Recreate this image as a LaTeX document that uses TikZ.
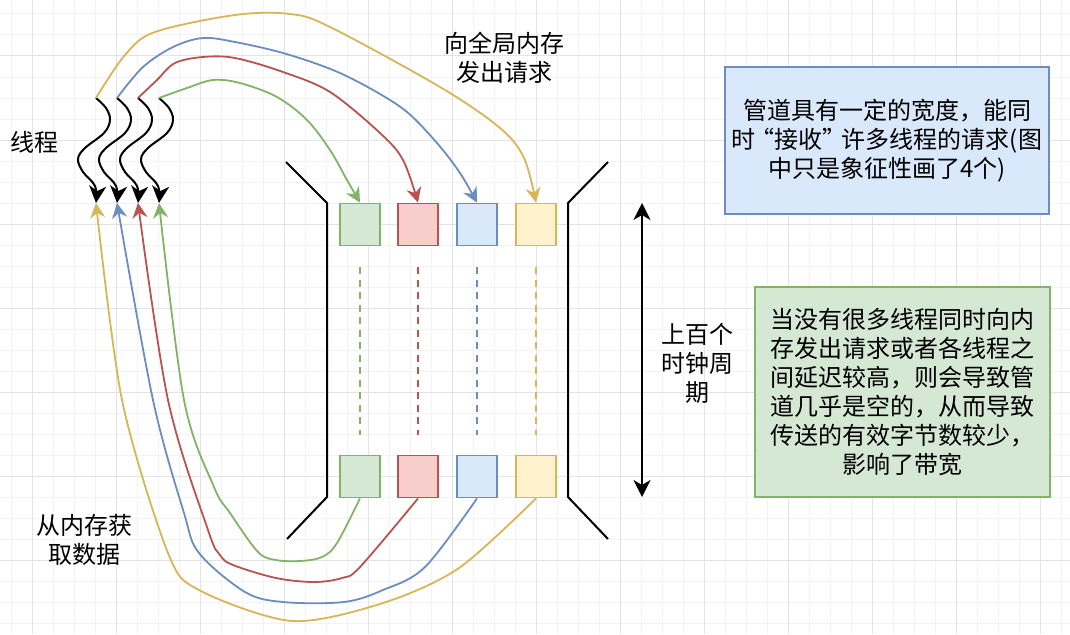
\documentclass[tikz,border=0pt]{standalone}
\usepackage{fontspec}
\setmainfont{Noto Sans CJK SC}
\usetikzlibrary{arrows.meta,calc}
\definecolor{gfill}{HTML}{D5E8D4}\definecolor{gline}{HTML}{82B366}
\definecolor{rfill}{HTML}{F8CECC}\definecolor{rline}{HTML}{B85450}
\definecolor{bfill}{HTML}{DAE8FC}\definecolor{bline}{HTML}{6C8EBF}
\definecolor{yfill}{HTML}{FFF2CC}\definecolor{yline}{HTML}{D6B656}
\definecolor{gridminor}{HTML}{F3F3F3}\definecolor{gridmajor}{HTML}{E3E3E3}
\begin{document}
\begin{tikzpicture}[x=1pt,y=-1pt,
  txt/.style={font=\fontsize{24}{29}\selectfont, align=center, inner sep=0pt},
  cell/.style={draw=#1line, fill=#1fill, line width=1.8pt,
    minimum width=40pt, minimum height=42pt, inner sep=0pt},
  note/.style={draw=#1line, fill=#1fill, line width=1.5pt, txt},
  flow/.style={draw=#1line, line width=1.8pt,
    -{Stealth[length=15pt,width=15pt,inset=5pt]}},
  wavy/.style={draw=black, line width=2pt,
    -{Stealth[length=17pt,width=17pt,inset=5pt]}},
  slot/.style={draw=#1line, line width=1.6pt, dash pattern=on 7pt off 5.5pt,
    shorten <=21pt, shorten >=20pt},
  pipe/.style={draw=black, line width=2pt},
]
\useasboundingbox (0,0) rectangle (1070,634);
\fill[white] (0,0) rectangle (1070,634);
% background grid
\foreach \x in {11,32,...,1070} \draw[gridminor, line width=1pt] (\x,0) -- (\x,634);
\foreach \y in {14,35,...,634} \draw[gridminor, line width=1pt] (0,\y) -- (1070,\y);
\foreach \x in {32,116,...,1070} \draw[gridmajor, line width=1pt] (\x,0) -- (\x,634);
\foreach \y in {56,140,...,634} \draw[gridmajor, line width=1pt] (0,\y) -- (1070,\y);

% pipeline walls
\draw[pipe] (286,162) -- (327,203) -- (327,497) -- (287,539);
\draw[pipe] (608,162) -- (568,203) -- (568,497) -- (608,539);

% requests entering and leaving the pipeline
\node[cell=g] (gt) at (360,224.5) {};
\node[cell=r] (rt) at (418,224.5) {};
\node[cell=b] (bt) at (477,224.5) {};
\node[cell=y] (yt) at (536,224.5) {};
\node[cell=g] (gb) at (360,476.5) {};
\node[cell=r] (rb) at (418,476.5) {};
\node[cell=b] (bb) at (477,476.5) {};
\node[cell=y] (yb) at (536,476.5) {};

\draw[slot=g] (gt) -- (gb);
\draw[slot=r] (rt) -- (rb);
\draw[slot=b] (bt) -- (bb);
\draw[slot=y] (yt) -- (yb);

% threads: start points and arrow meeting points
\coordinate (s1) at (96,98);  \coordinate (p1) at (96,203);
\coordinate (s2) at (117,98); \coordinate (p2) at (117,203);
\coordinate (s3) at (138,98); \coordinate (p3) at (138,203);
\coordinate (s4) at (159,98); \coordinate (p4) at (159,203);

\foreach \i in {1,...,4}
  \draw[wavy] plot[smooth, tension=0.6] coordinates {(s\i) ($(s\i)+(10,10)$)
    ($(s\i)+(14,22)$) ($(s\i)+(8,35)$) ($(s\i)+(-11,50)$) ($(s\i)+(-18,61)$)
    ($(s\i)+(-13,74)$) ($(s\i)+(-1,88)$) (p\i)};

% requests to global memory
\draw[flow=y] plot[smooth, tension=0.55] coordinates {(s1) (125,55) (155,32)
  (235,15) (290,14) (330,27) (440,87) (500,128) (524,158) (yt.north)};
\draw[flow=b] plot[smooth, tension=0.55] coordinates {(s2) (143,67) (173,47)
  (203,38) (235,42) (283,53) (333,70) (373,90) (407,112) (437,143) (460,173) (bt.north)};
\draw[flow=r] plot[smooth, tension=0.55] coordinates {(s3) (157,80) (175,63)
  (203,57) (235,58) (283,72) (330,92) (380,133) (403,160) (rt.north)};
\draw[flow=g] plot[smooth, tension=0.55] coordinates {(s4) (187,88) (213,80)
  (240,83) (277,97) (307,120) (330,150) (347,180) (gt.north)};

% data returned from memory
\draw[flow=g] plot[smooth, tension=0.55] coordinates {(gb.south) (337,543)
  (322,557) (300,561) (276,560) (258,552) (230,513) (214,487) (184,400) (p4)};
\draw[flow=r] plot[smooth, tension=0.55] coordinates {(rb.south) (360,567)
  (342,578) (314,582) (276,578) (233,565) (220,555) (208,530) (168,400) (p3)};
\draw[flow=b] plot[smooth, tension=0.55] coordinates {(bb.south) (425,567)
  (383,590) (344,602) (283,602) (245,592) (199,553) (184,513) (153,400) (p2)};
\draw[flow=y] plot[smooth, tension=0.5] coordinates {(yb.south) (459,568)
  (383,603) (292,621) (199,590) (168,553) (122,400) (p1)};

% latency arrow
\coordinate (a1) at (642,203);
\coordinate (a2) at (642,497);
\draw[line width=2pt, {Stealth[length=17pt,width=17pt,inset=5pt]}-{Stealth[length=17pt,width=17pt,inset=5pt]}] (a1) -- (a2);

% labels
\node[txt] (lthread) at (34,142) {线程};
\node[txt] (lreq) at (504,57.5) {向全局内存\\发出请求};
\node[txt] (lret) at (84,540) {从内存获\\取数据};
\node[txt] (lclk) at (697,363) {上百个\\时钟周\\期};

\node[note=b, minimum width=324pt, minimum height=147pt] (nwidth) at (887,140.5)
  {管道具有一定的宽度，能同\\时\kern-5pt“接收”\kern-5pt许多线程的请求(图\\中只是象征性画了4个)};
\node[note=g, minimum width=295pt, minimum height=210pt] (nbw) at (902.5,392)
  {当没有很多线程同时向内\\存发出请求或者各线程之\\间延迟较高，则会导致管\\道几乎是空的，从而导致\\传送的有效字节数较少，\\影响了带宽};
\end{tikzpicture}
\end{document}
